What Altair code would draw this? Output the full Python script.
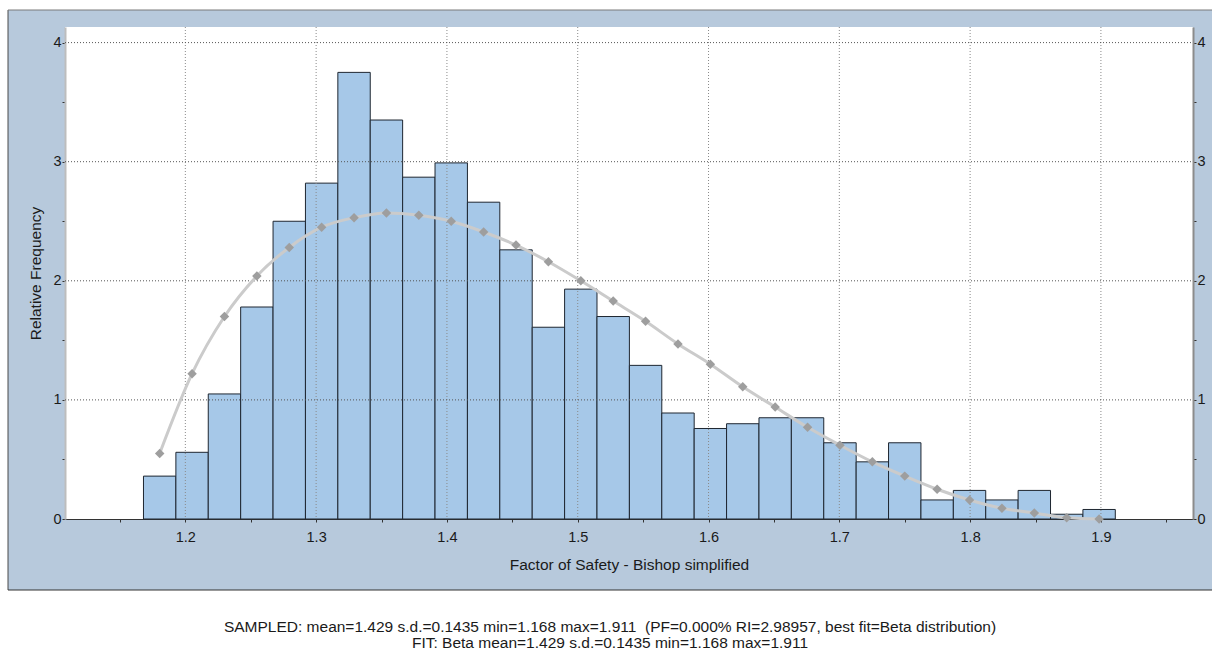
import altair as alt
import pandas as pd

# Histogram of sampled factor of safety (30 equal bins between min and max)
BIN_EDGES = [1.1680, 1.19277, 1.21753, 1.24230, 1.26707, 1.29183, 1.31660, 1.34137,
             1.36613, 1.39090, 1.41567, 1.44043, 1.46520, 1.48997, 1.51473, 1.53950,
             1.56427, 1.58903, 1.61380, 1.63857, 1.66333, 1.68810, 1.71287, 1.73763,
             1.76240, 1.78717, 1.81193, 1.83670, 1.86147, 1.88623, 1.91100]
REL_FREQ = [0.36, 0.56, 1.05, 1.78, 2.50, 2.82, 3.75, 3.35, 2.87, 2.99,
            2.66, 2.26, 1.61, 1.93, 1.70, 1.29, 0.89, 0.76, 0.80, 0.85,
            0.85, 0.64, 0.48, 0.64, 0.16, 0.24, 0.16, 0.24, 0.04, 0.08]
# Fitted Beta density evaluated at the bin centres
FIT_DENSITY = [0.55, 1.22, 1.70, 2.04, 2.28, 2.45, 2.53, 2.57, 2.55, 2.50,
               2.41, 2.30, 2.16, 2.00, 1.83, 1.66, 1.47, 1.30, 1.11, 0.94,
               0.77, 0.62, 0.48, 0.36, 0.25, 0.16, 0.09, 0.05, 0.01, 0.00]

X_TICKS = [1.15, 1.2, 1.25, 1.3, 1.35, 1.4, 1.45, 1.5, 1.55, 1.6, 1.65,
           1.7, 1.75, 1.8, 1.85, 1.9, 1.95]
Y_TICKS = [0, 0.5, 1, 1.5, 2, 2.5, 3, 3.5, 4]
GRID_X = [1.2, 1.3, 1.4, 1.5, 1.6, 1.7, 1.8, 1.9]
GRID_Y = [1, 2, 3, 4]

X_TITLE = "Factor of Safety - Bishop simplified"
Y_TITLE = "Relative Frequency"
# a no-break space keeps the double gap before the bracket in SVG text
SUMMARY_LINES = [
    "SAMPLED: mean=1.429 s.d.=0.1435 min=1.168 max=1.911\u00a0 (PF=0.000% RI=2.98957, best fit=Beta distribution)",
    "FIT: Beta mean=1.429 s.d.=0.1435 min=1.168 max=1.911",
]

W, H = 1128, 492
PANEL = "#b7c9dc"
FONT = "Liberation Sans"
INK = "#1a1a1a"

bins = pd.DataFrame({"lo": BIN_EDGES[:-1], "hi": BIN_EDGES[1:], "freq": REL_FREQ})
fit = pd.DataFrame({
    "fos": [(a + b) / 2 for a, b in zip(BIN_EDGES[:-1], BIN_EDGES[1:])],
    "density": FIT_DENSITY,
})
one = pd.DataFrame({"k": [0]})

x_scale = alt.Scale(domain=[1.108, 1.9704], nice=False, zero=False)
y_scale = alt.Scale(domain=[0, 4.131], nice=False)

x_labels = "abs(datum.value * 10 - round(datum.value * 10)) < 0.001 ? format(datum.value, '.1f') : ''"
y_labels = "datum.value % 1 == 0 ? format(datum.value, 'd') : ''"

x_axis = alt.Axis(values=X_TICKS, labelExpr=x_labels, grid=False, tickSize=3,
                  tickColor="#333333", domainColor="#333333", domainWidth=1,
                  labelFont=FONT, labelFontSize=14.5, labelColor=INK, labelPadding=8,
                  labelFlush=False, labelOverlap=False,
                  title=X_TITLE, titleFont=FONT, titleFontSize=15.5, titleFontWeight="normal",
                  titleColor=INK, titleY=45, titleBaseline="middle")
y_axis_left = alt.Axis(values=Y_TICKS, labelExpr=y_labels, grid=False, tickSize=3,
                       tickColor="#333333", domainColor="#bdbdbd", domainWidth=2,
                       labelFont=FONT, labelFontSize=14.5, labelColor=INK, labelPadding=1,
                       labelOverlap=False, labelFlush=False,
                       title=Y_TITLE, titleFont=FONT, titleFontSize=15.5, titleFontWeight="normal",
                       titleColor=INK, titleX=-30, titleY=H / 2, titleBaseline="middle",
                       titleAlign="center", titleAngle=270)
y_axis_right = alt.Axis(orient="right", values=Y_TICKS, labelExpr=y_labels, grid=False,
                        tickSize=3, tickColor="#333333", domainColor="#8c8c8c", domainWidth=2,
                        labelFont=FONT, labelFontSize=14.5, labelColor=INK, labelPadding=1,
                        labelOverlap=False, labelFlush=False, title=None)

# white margins around the grey-blue panel
strip_top = alt.Chart(one).mark_rect(color="white").encode(
    x=alt.value(-65), x2=alt.value(W + 19), y=alt.value(-27), y2=alt.value(-17))
strip_left = alt.Chart(one).mark_rect(color="white").encode(
    x=alt.value(-65), x2=alt.value(-57), y=alt.value(-27), y2=alt.value(H + 131))
strip_bottom = alt.Chart(one).mark_rect(color="white").encode(
    x=alt.value(-65), x2=alt.value(W + 19), y=alt.value(H + 71), y2=alt.value(H + 131))

# panel border
border_left = alt.Chart(one).mark_rule(color="#4a4a4a", strokeWidth=1).encode(
    x=alt.value(-57), y=alt.value(-17), y2=alt.value(H + 71))
border_top = alt.Chart(one).mark_rule(color="#7a7a7a", strokeWidth=1).encode(
    x=alt.value(-57), x2=alt.value(W + 19), y=alt.value(-17))
border_bottom = alt.Chart(one).mark_rule(color="#333333", strokeWidth=1).encode(
    x=alt.value(-57), x2=alt.value(W + 19), y=alt.value(H + 71))

# histogram bars carry the bottom and left axes
bars = alt.Chart(bins).mark_rect(fill="#a6c8e8", stroke="#1e2630", strokeWidth=1).encode(
    x=alt.X("lo:Q", scale=x_scale, axis=x_axis),
    x2="hi:Q",
    y=alt.Y("freq:Q", scale=y_scale, axis=y_axis_left),
    y2=alt.datum(0),
)

# dotted grid (horizontal rules carry the right-hand axis)
grid_h = alt.Chart(pd.DataFrame({"g": GRID_Y})).mark_rule(
    color="#555555", strokeWidth=1, strokeDash=[1, 2]).encode(
    y=alt.Y("g:Q", scale=y_scale, axis=y_axis_right),
    x=alt.value(0), x2=alt.value(W))
grid_v = alt.Chart(pd.DataFrame({"g": GRID_X})).mark_rule(
    color="#8a8a8a", strokeWidth=1, strokeDash=[1, 2]).encode(
    x=alt.X("g:Q", scale=x_scale),
    y=alt.value(0), y2=alt.value(H))

fit_line = alt.Chart(fit).mark_line(color="#cbcbcb", strokeWidth=3, interpolate="monotone").encode(
    x=alt.X("fos:Q", scale=x_scale),
    y=alt.Y("density:Q", scale=y_scale, axis=None),
)
fit_pts = alt.Chart(fit).mark_point(shape="diamond", filled=True, size=90,
                                    color="#9e9e9e", opacity=1).encode(
    x=alt.X("fos:Q", scale=x_scale),
    y=alt.Y("density:Q", scale=y_scale, axis=None),
)

line1 = alt.Chart(pd.DataFrame({"t": [SUMMARY_LINES[0]]})).mark_text(
    font=FONT, fontSize=15.5, color=INK, align="center", baseline="middle").encode(
    text="t:N", x=alt.value(545), y=alt.value(600))
line2 = alt.Chart(pd.DataFrame({"t": [SUMMARY_LINES[1]]})).mark_text(
    font=FONT, fontSize=15.5, color=INK, align="center", baseline="middle").encode(
    text="t:N", x=alt.value(545), y=alt.value(616))

chart = alt.layer(
    bars, strip_top, strip_left, strip_bottom,
    border_left, border_top, border_bottom,
    grid_v, grid_h, fit_line, fit_pts, line1, line2,
).resolve_axis(y="independent").properties(
    width=W, height=H, background=PANEL,
    padding={"left": 65, "top": 27, "right": 19, "bottom": 131},
    autosize=alt.AutoSizeParams(type="none"),
).configure_view(fill="white", strokeWidth=0)

chart.save("out.html", embed_options={"renderer": "svg", "actions": False})
